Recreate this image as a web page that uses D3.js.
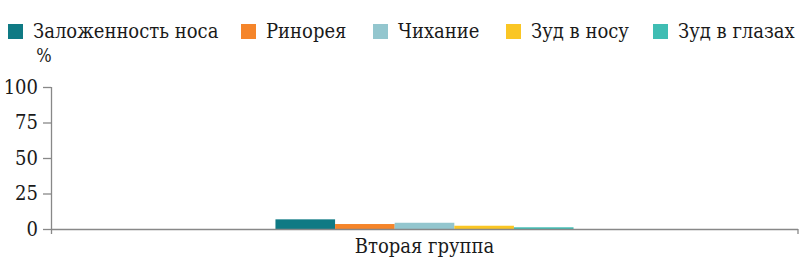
<!DOCTYPE html>
<html>
<head>
<meta charset="utf-8">
<script src="https://cdn.jsdelivr.net/npm/d3@7"></script>
<style>
  body { margin: 0; background: #fff; }
  svg text { font-family: "DejaVu Serif Condensed", "DejaVu Serif", serif; font-stretch: condensed; fill: #1a1a1a; }
</style>
</head>
<body>
<div id="chart"></div>
<script>
// Data
var categories = ["Вторая группа"];
var series = ["Заложенность носа", "Ринорея", "Чихание", "Зуд в носу", "Зуд в глазах"];
var values = [6.8, 3.5, 4.4, 2.3, 1.2];
var colors = ["#0f7a84", "#f5852a", "#93c6ce", "#fac624", "#3fbdb3"];
var yTicks = [0, 25, 50, 75, 100];

var width = 800, height = 266;
var mLeft = 51, mRight = 798, mTop = 87, mBottom = 229;

var svg = d3.select("#chart").append("svg")
    .attr("width", width)
    .attr("height", height);

var y = d3.scaleLinear().domain([0, 100]).range([mBottom, mTop]);
var x = d3.scaleBand().domain(categories).range([mLeft, mRight])
    .paddingInner(0).paddingOuter(0.753);
var xs = d3.scaleBand().domain(series).range([0, x.bandwidth()]).padding(0);

// bars
var g = svg.append("g");
categories.forEach(function(c) {
    g.selectAll("rect.bar")
        .data(series)
        .enter().append("rect")
        .attr("class", "bar")
        .attr("x", function(d) { return x(c) + xs(d); })
        .attr("width", xs.bandwidth())
        .attr("y", function(d, i) { return y(values[i]); })
        .attr("height", function(d, i) { return y(0) - y(values[i]); })
        .attr("fill", function(d, i) { return colors[i]; });
});

// y axis
var yAxis = svg.append("g")
    .attr("transform", "translate(" + mLeft + ",0)")
    .call(d3.axisLeft(y).tickValues(yTicks).tickSize(8).tickPadding(5));
yAxis.select(".domain").remove();
yAxis.append("line")
    .attr("x1", 0.5).attr("x2", 0.5)
    .attr("y1", mTop).attr("y2", mBottom + 5)
    .attr("stroke", "#888").attr("stroke-width", 1.3);
yAxis.selectAll(".tick line").attr("stroke", "#888").attr("stroke-width", 1.3);
yAxis.selectAll(".tick text").attr("font-size", 20);

// x axis
var xAxis = svg.append("g")
    .attr("transform", "translate(0," + mBottom + ")")
    .call(d3.axisBottom(x).tickSize(0).tickPadding(10));
xAxis.select(".domain").remove();
xAxis.append("line")
    .attr("x1", mLeft).attr("x2", mRight)
    .attr("y1", 0.5).attr("y2", 0.5)
    .attr("stroke", "#888").attr("stroke-width", 1.3);
xAxis.append("line")
    .attr("x1", mRight).attr("x2", mRight)
    .attr("y1", 0).attr("y2", 5)
    .attr("stroke", "#888").attr("stroke-width", 1.3);
xAxis.selectAll(".tick text").attr("font-size", 20);
yAxis.attr("font-family", null);
xAxis.attr("font-family", null);

// unit label
svg.append("text")
    .attr("x", 44).attr("y", 62)
    .attr("text-anchor", "middle")
    .attr("font-size", 18)
    .text("%");

// legend
var legendX = [8, 241, 373, 506, 653];
var legend = svg.selectAll("g.legend")
    .data(series)
    .enter().append("g")
    .attr("class", "legend")
    .attr("transform", function(d, i) { return "translate(" + legendX[i] + ",24)"; });
legend.append("rect")
    .attr("width", 15).attr("height", 15)
    .attr("fill", function(d, i) { return colors[i]; });
legend.append("text")
    .attr("x", 25).attr("y", 14)
    .attr("font-size", 20)
    .text(function(d) { return d; });
</script>
</body>
</html>
